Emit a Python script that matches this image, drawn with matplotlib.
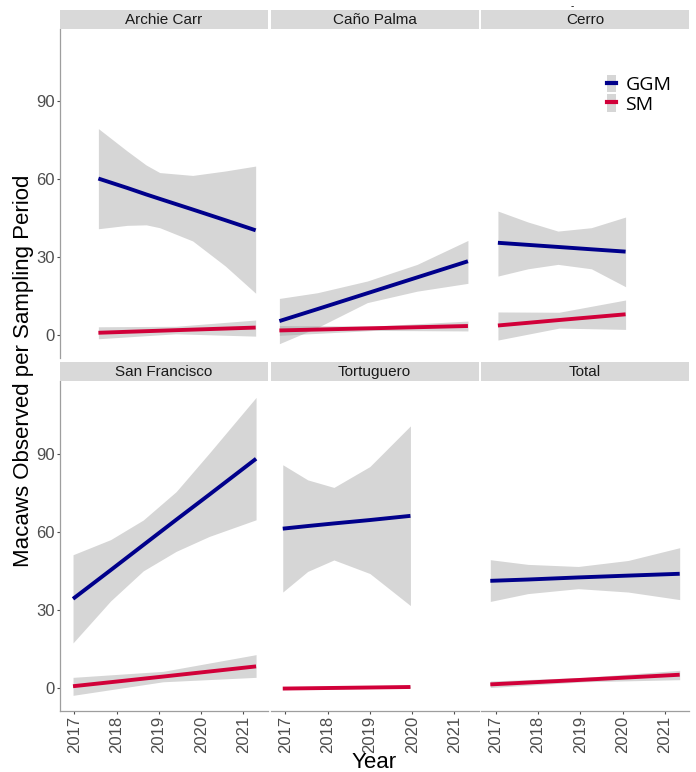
import matplotlib
matplotlib.use("Agg")
import matplotlib.pyplot as plt
from matplotlib.patches import Patch
from matplotlib.lines import Line2D
from matplotlib.legend_handler import HandlerTuple

plt.rcParams['font.family'] = ['Liberation Sans', 'DejaVu Sans']

# Facets, in plotting order
sites = ["Archie Carr", "Caño Palma", "Cerro", "San Francisco", "Tortuguero", "Total"]

# Great Green Macaw (GGM): linear fit and 95% band
ggm_x = {
    "Archie Carr":   [2017.57, 2018.25, 2018.70, 2019.02, 2019.80, 2020.57, 2021.29],
    "Caño Palma":    [2016.86, 2017.76, 2018.94, 2020.12, 2021.32],
    "Cerro":         [2017.05, 2017.76, 2018.47, 2019.26, 2020.07],
    "San Francisco": [2016.97, 2017.86, 2018.63, 2019.41, 2020.19, 2021.30],
    "Tortuguero":    [2016.94, 2017.53, 2018.15, 2019.00, 2019.96],
    "Total":         [2016.87, 2017.76, 2018.95, 2020.13, 2021.35],
}
ggm_fit = {
    "Archie Carr":   [60.3, 56.7, 54.2, 52.5, 48.4, 44.3, 40.4],
    "Caño Palma":    [5.5, 10.1, 16.2, 22.3, 28.5],
    "Cerro":         [35.6, 34.8, 34.0, 33.1, 32.2],
    "San Francisco": [34.3, 45.3, 54.9, 64.6, 74.2, 88.0],
    "Tortuguero":    [61.2, 62.2, 63.2, 64.5, 66.1],
    "Total":         [41.2, 41.7, 42.5, 43.2, 43.9],
}
ggm_upper = {
    "Archie Carr":   [79.5, 70.9, 65.5, 62.6, 61.5, 63.2, 65.1],
    "Caño Palma":    [14.2, 16.4, 20.9, 27.3, 36.5],
    "Cerro":         [47.8, 43.6, 40.1, 41.4, 45.5],
    "San Francisco": [51.2, 57.0, 64.5, 75.4, 90.1, 111.5],
    "Tortuguero":    [85.7, 79.9, 77.0, 85.0, 100.6],
    "Total":         [49.3, 47.5, 46.7, 49.0, 53.9],
}
ggm_lower = {
    "Archie Carr":   [41.0, 42.3, 42.5, 41.4, 36.3, 26.7, 16.2],
    "Caño Palma":    [-3.2, 3.0, 12.6, 17.0, 20.0],
    "Cerro":         [22.8, 25.6, 27.3, 25.6, 18.7],
    "San Francisco": [17.4, 33.5, 45.0, 52.5, 58.2, 64.6],
    "Tortuguero":    [36.9, 44.8, 49.2, 44.0, 31.7],
    "Total":         [33.3, 36.3, 38.2, 36.9, 34.0],
}

# Scarlet Macaw (SM)
sm_x = {
    "Archie Carr":   [2017.57, 2019.40, 2021.29],
    "Caño Palma":    [2016.86, 2019.10, 2021.32],
    "Cerro":         [2017.05, 2018.50, 2020.07],
    "San Francisco": [2016.97, 2019.10, 2021.30],
    "Tortuguero":    [2016.94, 2019.96],
    "Total":         [2016.87, 2019.10, 2021.35],
}
sm_fit = {
    "Archie Carr":   [1.0, 2.0, 3.0],
    "Caño Palma":    [1.9, 2.75, 3.6],
    "Cerro":         [3.8, 5.9, 8.1],
    "San Francisco": [0.8, 4.5, 8.4],
    "Tortuguero":    [-0.1, 0.5],
    "Total":         [1.5, 3.3, 5.2],
}
sm_upper = {
    "Archie Carr":   [3.3, 3.5, 5.9],
    "Caño Palma":    [3.8, 3.6, 5.5],
    "Cerro":         [9.0, 8.9, 13.6],
    "San Francisco": [4.2, 6.5, 12.9],
    "Tortuguero":    [0.3, 0.9],
    "Total":         [2.8, 4.2, 6.9],
}
sm_lower = {
    "Archie Carr":   [-1.3, 0.6, -0.3],
    "Caño Palma":    [0.0, 1.9, 1.7],
    "Cerro":         [-1.8, 2.8, 2.3],
    "San Francisco": [-2.7, 2.5, 4.2],
    "Tortuguero":    [-0.5, 0.1],
    "Total":         [0.3, 2.5, 3.3],
}

years = [2017, 2018, 2019, 2020, 2021]
yticks = [0, 30, 60, 90]

GGM_COL = "#00008B"
SM_COL = "#D10039"
BAND = "#999999"

W, H = 696, 772
fig = plt.figure(figsize=(W / 100, H / 100), dpi=100)

col_px = [(59.5, 267.5), (270.5, 478.5), (481, 689)]
row_px = [(29, 358), (381, 711)]
strip_h = 19


def px_axes(x0, x1, y0, y1):
    return fig.add_axes([x0 / W, 1 - y1 / H, (x1 - x0) / W, (y1 - y0) / H])


for i, site in enumerate(sites):
    r, c = divmod(i, 3)
    x0, x1 = col_px[c]
    y0, y1 = row_px[r]
    ax = px_axes(x0, x1, y0, y1)

    ax.fill_between(ggm_x[site], ggm_lower[site], ggm_upper[site],
                    color=BAND, alpha=0.4, lw=0)
    ax.plot(ggm_x[site], ggm_fit[site], color=GGM_COL, lw=2.8,
            solid_capstyle="butt")
    ax.fill_between(sm_x[site], sm_lower[site], sm_upper[site],
                    color=BAND, alpha=0.4, lw=0)
    ax.plot(sm_x[site], sm_fit[site], color=SM_COL, lw=2.8,
            solid_capstyle="butt")

    ax.set_xlim(2016.65, 2021.57)
    ax.set_ylim(-8.7, 117.8)
    for s in ax.spines.values():
        s.set_visible(False)
        s.set_color("#9E9E9E")
        s.set_linewidth(0.9)

    ax.tick_params(colors="#4D4D4D", labelsize=12, length=2.5, width=0.8, pad=1)
    if c == 0:
        ax.spines["left"].set_visible(True)
        ax.set_yticks(yticks)
    else:
        ax.set_yticks([])
    if r == 1:
        ax.spines["bottom"].set_visible(True)
        ax.set_xticks(years)
        ax.set_xticklabels([str(y) for y in years], rotation=90)
    else:
        ax.set_xticks([])
    for t in ax.get_xticklabels() + ax.get_yticklabels():
        t.set_color("#4D4D4D")

    # facet strip
    sax = px_axes(x0, x1, y0 - strip_h, y0)
    sax.set_facecolor("#D9D9D9")
    sax.set_xticks([])
    sax.set_yticks([])
    for s in sax.spines.values():
        s.set_visible(False)
    sax.text(0.5, 0.45, site, ha="center", va="center", fontsize=11,
             color="#1A1A1A", transform=sax.transAxes)

fig.text(24 / W, 1 - 371 / H, "Macaws Observed per Sampling Period",
         rotation=90, ha="center", va="center", fontsize=16)
fig.text(374 / W, 1 - 762 / H, "Year", ha="center", va="center", fontsize=16)

# legend in the Cerro panel: grey key box with a short coloured line on top
handles = [
    (Patch(facecolor="#D6D6D6", edgecolor="none"), Line2D([0], [0], color=GGM_COL, lw=3)),
    (Patch(facecolor="#D6D6D6", edgecolor="none"), Line2D([0], [0], color=SM_COL, lw=3)),
]
fig.legend(handles, ["GGM", "SM"], loc="upper left",
           bbox_to_anchor=(606.5 / W, 1 - 75 / H), frameon=False,
           handlelength=0.48, handleheight=1.0, labelspacing=0.0,
           handletextpad=0.5, borderpad=0, borderaxespad=0,
           handler_map={tuple: HandlerTuple(ndivide=1, pad=0)},
           prop={"family": "Open Sans", "size": 14})
fig.text(572 / W, 1 - 6 / H, "-", ha="center", va="center", fontsize=7)

fig.savefig("out.png", dpi=100)
